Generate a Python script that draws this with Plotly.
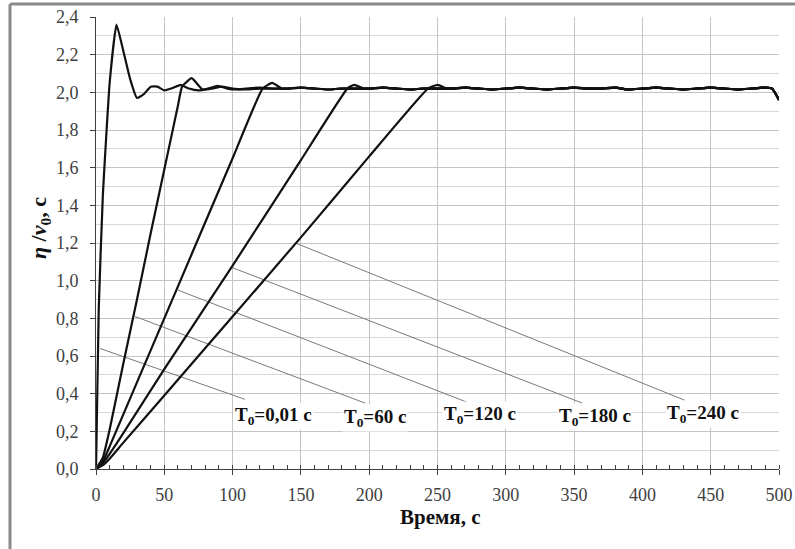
import plotly.graph_objects as go

# ---- data ----
plateau_t = [140, 150, 160, 170, 180, 200, 210, 220, 230, 240, 260, 270, 280, 290, 300,
             310, 320, 330, 340, 350, 360, 370, 380, 390, 400, 410, 420, 430, 440, 450,
             460, 470, 480, 490, 495, 500]
plateau_y = [2.02, 2.025, 2.02, 2.015, 2.02, 2.02, 2.025, 2.02, 2.015, 2.02, 2.02, 2.025,
             2.02, 2.015, 2.02, 2.025, 2.02, 2.015, 2.02, 2.025, 2.02, 2.02, 2.025, 2.015,
             2.02, 2.025, 2.02, 2.015, 2.02, 2.025, 2.02, 2.015, 2.02, 2.025, 2.02, 1.96]

t_001 = [0, 2, 5, 10, 15, 20, 25, 30, 35, 40, 45, 50, 55, 62, 68, 75, 82, 89, 96, 103, 110, 120, 130]
y_001 = [0, 0.85, 1.45, 2.05, 2.36, 2.22, 2.07, 1.97, 1.99, 2.03, 2.03, 2.01, 2.02, 2.04, 2.02,
         2.01, 2.02, 2.035, 2.02, 2.015, 2.02, 2.025, 2.02]

t_060 = [0, 5, 10, 20, 30, 40, 50, 60, 63, 70, 78, 85, 92, 100, 110, 120, 130]
y_060 = [0, 0.06, 0.21, 0.56, 0.90, 1.25, 1.59, 1.93, 2.03, 2.075, 2.015, 2.02, 2.03, 2.02,
         2.015, 2.02, 2.02]

t_120 = [0, 5, 10, 20, 40, 60, 80, 100, 122, 129, 136]
y_120 = [0, 0.04, 0.12, 0.29, 0.63, 0.97, 1.31, 1.65, 2.02, 2.05, 2.02]

t_180 = [0, 5, 10, 20, 50, 100, 150, 184, 189, 196]
y_180 = [0, 0.03, 0.08, 0.19, 0.53, 1.08, 1.64, 2.02, 2.04, 2.02]

t_240 = [0, 5, 10, 20, 50, 100, 150, 200, 243, 250, 257]
y_240 = [0, 0.02, 0.055, 0.14, 0.39, 0.81, 1.23, 1.66, 2.02, 2.04, 2.02]

labels = ["T<sub>0</sub>=0,01 c", "T<sub>0</sub>=60 c", "T<sub>0</sub>=120 c",
          "T<sub>0</sub>=180 c", "T<sub>0</sub>=240 c"]
label_x = [130, 204, 281, 365, 444]
label_y = [0.28, 0.27, 0.285, 0.275, 0.29]
leader_x0 = [3, 28.5, 60, 99.5, 146]
leader_y0 = [0.64, 0.81, 0.95, 1.07, 1.20]
leader_x1 = [109, 197, 271.5, 356, 431]
leader_y1 = [0.37, 0.35, 0.355, 0.35, 0.365]

x_ticks = list(range(0, 501, 50))
y_ticks = [0.0, 0.2, 0.4, 0.6, 0.8, 1.0, 1.2, 1.4, 1.6, 1.8, 2.0, 2.2, 2.4]

curves = [(t_001, y_001), (t_060, y_060), (t_120, y_120), (t_180, y_180), (t_240, y_240)]

fig = go.Figure()

# leader lines
for i in range(len(labels)):
    fig.add_trace(go.Scatter(x=[leader_x0[i], leader_x1[i]], y=[leader_y0[i], leader_y1[i]],
                             mode="lines", line=dict(color="#7a7a7a", width=1),
                             hoverinfo="skip", showlegend=False))

for t, y in curves:
    tt = list(t) + [p for p in plateau_t if p > t[-1]]
    yy = list(y) + [v for p, v in zip(plateau_t, plateau_y) if p > t[-1]]
    fig.add_trace(go.Scatter(x=tt, y=yy, mode="lines",
                             line=dict(color="#111111", width=2.2, shape="spline", smoothing=0.4),
                             showlegend=False))

serif = "Liberation Serif"

for i, lab in enumerate(labels):
    fig.add_annotation(x=label_x[i], y=label_y[i], xref="x", yref="y", text="<b>" + lab + "</b>",
                       showarrow=False, bgcolor="white", borderpad=1,
                       xanchor="center", yanchor="middle",
                       font=dict(family=serif, size=19, color="#111111"))

# axis titles
fig.add_annotation(x=(440 - 96) / 683, y=(469 - 517) / 452, xref="paper", yref="paper",
                   text="<b>Время, c</b>", showarrow=False,
                   xanchor="center", yanchor="middle",
                   font=dict(family=serif, size=21, color="#111111"))
fig.add_annotation(x=(40 - 96) / 683, y=(469 - 228) / 452, xref="paper", yref="paper",
                   text="<b><i>η</i> /<i>v</i><sub>0</sub>, c</b>", showarrow=False, textangle=-90,
                   xanchor="center", yanchor="middle",
                   font=dict(family=serif, size=22, color="#111111"))

# outer frame (left and top)
fx = (10 - 96) / 683
fy = (469 - 4) / 452
fig.add_shape(type="line", xref="paper", yref="paper", x0=fx, y0=-0.2, x1=fx, y1=fy,
              line=dict(color="#8a8a8a", width=3))
fig.add_shape(type="line", xref="paper", yref="paper", x0=fx, y0=fy, x1=1.1, y1=fy,
              line=dict(color="#8a8a8a", width=3))

fig.update_layout(
    width=795, height=549,
    margin=dict(l=96, r=16, t=17, b=80),
    paper_bgcolor="white", plot_bgcolor="white",
    separators=", ",
    showlegend=False,
)
fig.update_xaxes(
    range=[0, 500], tickvals=x_ticks, ticktext=[str(v) for v in x_ticks],
    showgrid=True, gridcolor="#c4c4c4", gridwidth=1,
    showline=True, linecolor="#404040", linewidth=1,
    ticks="outside", ticklen=5, tickcolor="#404040",
    minor=dict(dtick=10, ticks="inside", ticklen=4, tickcolor="#404040", showgrid=False),
    tickfont=dict(family=serif, size=18, color="#404040"),
    zeroline=False, ticklabelstandoff=4, automargin=False,
)
fig.update_yaxes(
    range=[0, 2.4], tickvals=y_ticks, ticktext=[f"{v:.1f}".replace(".", ",") for v in y_ticks],
    showgrid=True, gridcolor="#c4c4c4", gridwidth=1,
    showline=True, linecolor="#404040", linewidth=1,
    ticks="outside", ticklen=5, tickcolor="#404040",
    minor=dict(dtick=0.1, showgrid=True, gridcolor="#d8d8d8", ticks=""),
    tickfont=dict(family=serif, size=18, color="#404040"),
    zeroline=False, ticklabelstandoff=8, automargin=False,
)

fig.write_html("out.html")
